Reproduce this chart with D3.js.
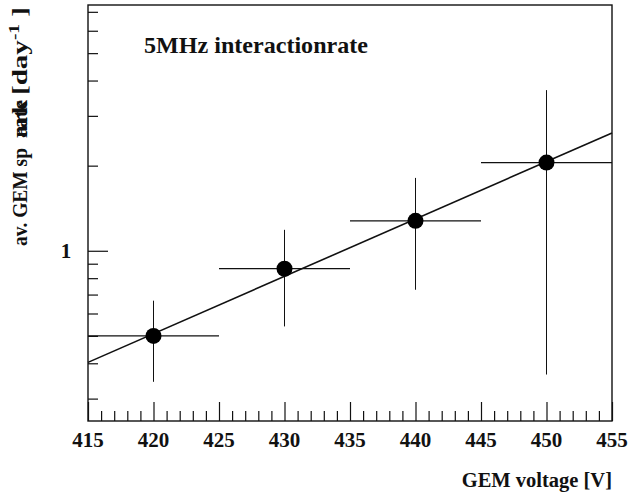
<!DOCTYPE html>
<html>
<head>
<meta charset="utf-8">
<script src="https://cdn.jsdelivr.net/npm/d3@7"></script>
<style>
  html, body { margin: 0; padding: 0; background: #fff; }
  svg { display: block; }
  text { font-family: "Liberation Serif", "Times New Roman", serif; font-weight: bold; fill: #111; }
</style>
</head>
<body>
<svg id="chart" width="628" height="493"></svg>
<script>
// GEM voltage settings and the measured spark rates with their uncertainties
const voltages = [420, 430, 440, 450];
const sparkRates = [0.50, 0.864, 1.276, 2.05];
const rateLow = [0.344, 0.54, 0.728, 0.365];
const rateHigh = [0.666, 1.186, 1.81, 3.7];
const binHalfWidth = [5, 5, 5, 5];

// exponential fit, given at the ends of the voltage range
const fitVoltages = [415, 455];
const fitRates = [0.403, 2.61];

const xTickValues = [415, 420, 425, 430, 435, 440, 445, 450, 455];
const yLabelValues = [1];

const svg = d3.select("#chart");
const plotLeft = 88, plotRight = 612, plotTop = 5, plotBottom = 421;

const x = d3.scaleLinear().domain([415, 455]).range([plotLeft, plotRight]);
const y = d3.scaleLog().domain([0.25, 7.4]).range([plotBottom, plotTop]);

const ink = "#111";

// frame
svg.append("rect")
  .attr("x", plotLeft).attr("y", plotTop)
  .attr("width", plotRight - plotLeft).attr("height", plotBottom - plotTop)
  .attr("fill", "none").attr("stroke", ink).attr("stroke-width", 1.4);

// x axis: ticks pointing up from the bottom edge
const xMinor = d3.range(415, 456, 1);
const xAxis = d3.axisTop(x)
  .tickValues(xMinor)
  .tickSize(10)
  .tickFormat("");
const gx = svg.append("g").attr("transform", `translate(0,${plotBottom})`).call(xAxis);
gx.select(".domain").remove();
gx.selectAll(".tick line")
  .attr("stroke", ink).attr("stroke-width", 1.2)
  .attr("y2", d => (d % 5 === 0 ? -19 : -10));

svg.append("g").selectAll("text").data(xTickValues).join("text")
  .attr("x", d => x(d)).attr("y", 447)
  .attr("text-anchor", "middle")
  .attr("font-size", 21)
  .text(d => d);

// y axis: logarithmic ticks pointing right from the left edge
const yMinor = [0.3, 0.4, 0.5, 0.6, 0.7, 0.8, 0.9, 1, 2, 3, 4, 5, 6, 7];
const yAxis = d3.axisRight(y).tickValues(yMinor).tickSize(10).tickFormat("");
const gy = svg.append("g").attr("transform", `translate(${plotLeft},0)`).call(yAxis);
gy.select(".domain").remove();
gy.selectAll(".tick line")
  .attr("stroke", ink).attr("stroke-width", 1.2)
  .attr("x2", d => (yLabelValues.includes(d) ? 20 : 10));

svg.append("g").selectAll("text").data(yLabelValues).join("text")
  .attr("x", 66).attr("y", d => y(d) + 7)
  .attr("text-anchor", "middle")
  .attr("font-size", 21)
  .text(d => d);

// fit line
const fitLine = d3.line().x(d => x(d[0])).y(d => y(d[1]));
svg.append("path")
  .datum(fitVoltages.map((v, i) => [v, fitRates[i]]))
  .attr("d", fitLine)
  .attr("fill", "none").attr("stroke", ink).attr("stroke-width", 1.6);

// data points with error bars
const pts = voltages.map((v, i) => ({
  v, r: sparkRates[i], lo: rateLow[i], hi: rateHigh[i], hw: binHalfWidth[i]
}));
const g = svg.append("g");
g.selectAll(".ex").data(pts).join("line")
  .attr("class", "ex")
  .attr("x1", d => x(d.v - d.hw)).attr("x2", d => x(d.v + d.hw))
  .attr("y1", d => y(d.r)).attr("y2", d => y(d.r))
  .attr("stroke", ink).attr("stroke-width", 1.3);
g.selectAll(".ey").data(pts).join("line")
  .attr("class", "ey")
  .attr("x1", d => x(d.v)).attr("x2", d => x(d.v))
  .attr("y1", d => y(d.lo)).attr("y2", d => y(d.hi))
  .attr("stroke", ink).attr("stroke-width", 1);
g.selectAll("circle").data(pts).join("circle")
  .attr("cx", d => x(d.v)).attr("cy", d => y(d.r))
  .attr("r", 8).attr("fill", "#000");

// annotation
svg.append("text")
  .attr("x", 144).attr("y", 53)
  .attr("font-size", 23)
  .attr("textLength", 224).attr("lengthAdjust", "spacingAndGlyphs")
  .text("5MHz interactionrate");

// axis titles
svg.append("text")
  .attr("x", 612).attr("y", 487)
  .attr("text-anchor", "end")
  .attr("font-size", 20.5)
  .text("GEM voltage [V]");

const yt = svg.append("g").attr("transform", "translate(27,0) rotate(-90)");
yt.append("text").attr("x", -246).attr("y", 0).attr("font-size", 21)
  .attr("textLength", 98).attr("lengthAdjust", "spacingAndGlyphs").text("av. GEM sp");
yt.append("text").attr("x", -138).attr("y", 0).attr("font-size", 21)
  .attr("textLength", 38).attr("lengthAdjust", "spacingAndGlyphs").text("ark");
yt.append("text").attr("x", -138).attr("y", 0).attr("font-size", 21)
  .attr("textLength", 38).attr("lengthAdjust", "spacingAndGlyphs").text("rate");
const dayLabel = yt.append("text").attr("x", -95).attr("y", 0).attr("font-size", 21)
  .attr("textLength", 88).attr("lengthAdjust", "spacingAndGlyphs");
dayLabel.append("tspan").text("[day");
dayLabel.append("tspan").attr("dy", -8).attr("font-size", 14).text("-1");
dayLabel.append("tspan").attr("dy", 8).text(" ]");
</script>
</body>
</html>
